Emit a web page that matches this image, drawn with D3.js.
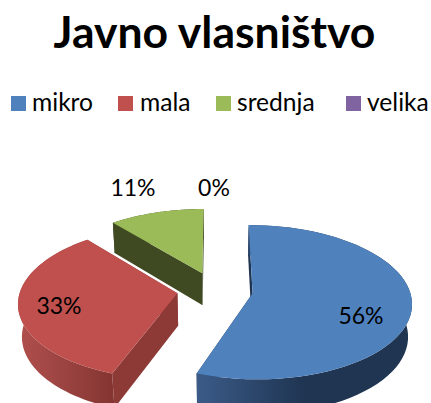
<!DOCTYPE html>
<html><head><meta charset="utf-8">
<script src="https://cdn.jsdelivr.net/npm/d3@7"></script>
<style>html,body{margin:0;padding:0;background:#fff;overflow:hidden}svg{display:block}text{font-family:Lato,sans-serif;fill:#000}</style>
</head><body><svg id="c" width="431" height="403"></svg>
<script>
const categories = ["mikro","mala","srednja","velika"];
const values = [5,3,1,0];
const colors = ["#4f81bd","#c0504d","#9bbb59","#8064a2"];
const title = "Javno vlasništvo";

// layout
const W=431,H=403,cx=215,cy=290,R=157,k=0.48,p=0.116,q=0.02,D=33,E=38;
const legendSwatchX=[11,118,216,346], legendTextX=[32,140,237,367];
const labelPos=[[361,324],[59,314],[133,196],[214,196]];
const wallFill=[
  {id:"w0",stops:["#3b5b88","#1f3552","#1f3552"],radial:"#1f3552"},
  {id:"w1",stops:["#b04f4c","#9a4341","#843431"],radial:"#8d3a37"},
  {id:"w2",stops:["#3f4a22","#3f4a22","#3f4a22"],radial:"#3f4a22"}
];

const svg=d3.select("#c");
svg.append("text").attr("x",214.5).attr("y",47.5).attr("text-anchor","middle")
  .attr("font-size",44.5).attr("font-weight",700).text(title);

categories.forEach((c,i)=>{
  svg.append("rect").attr("x",legendSwatchX[i]).attr("y",96).attr("width",15).attr("height",15).attr("fill",colors[i]);
  svg.append("text").attr("x",legendTextX[i]).attr("y",111).attr("font-size",24.6).text(c);
});

const defs=svg.append("defs");
wallFill.forEach(w=>{
  const g=defs.append("linearGradient").attr("id",w.id);
  w.stops.forEach((s,i)=>g.append("stop").attr("offset",i/(w.stops.length-1)).attr("stop-color",s));
});

const arcs=d3.pie().sort(null).startAngle(0).endAngle(2*Math.PI)(values);
const total=d3.sum(values), pct=d3.format(".0%");

function proj(X,Z,h){
  const s=1/(1+p*Z/R+q*h);
  return [cx+X*s, cy+(-k*Z+D*h)*s];
}
function pts(a,rf,th,h){
  const m=(a.startAngle+a.endAngle)/2;
  const X=E*Math.sin(m)+rf*R*Math.sin(th), Z=E*Math.cos(m)+rf*R*Math.cos(th);
  return proj(X,Z,h);
}
const line=d3.line();
// paint back to front: srednja, mala, mikro
[2,1,0].forEach(i=>{
  const a=arcs[i]; if(a.value===0) return;
  const th=d3.range(0,61).map(t=>a.startAngle+(a.endAngle-a.startAngle)*t/60);
  const top=th.map(t=>pts(a,1,t,0)), bot=th.map(t=>pts(a,1,t,1));
  const g=svg.append("g");
  [a.endAngle,a.startAngle].forEach(t=>{
    const q4=[pts(a,0,t,0),pts(a,1,t,0),pts(a,1,t,1),pts(a,0,t,1)];
    g.append("path").attr("d",line(q4)+"Z").attr("fill",wallFill[i].radial);
  });
  g.append("path").attr("d",line(top.concat(bot.slice().reverse()))+"Z").attr("fill",`url(#${wallFill[i].id})`);
  g.append("path").attr("d",line([pts(a,0,0,0)].concat(top))+"Z").attr("fill",colors[i]);
});

arcs.forEach((a,i)=>{
  svg.append("text").attr("x",labelPos[i][0]).attr("y",labelPos[i][1]).attr("text-anchor","middle")
    .attr("font-size",23).text(pct(a.value/total));
});
</script></body></html>
